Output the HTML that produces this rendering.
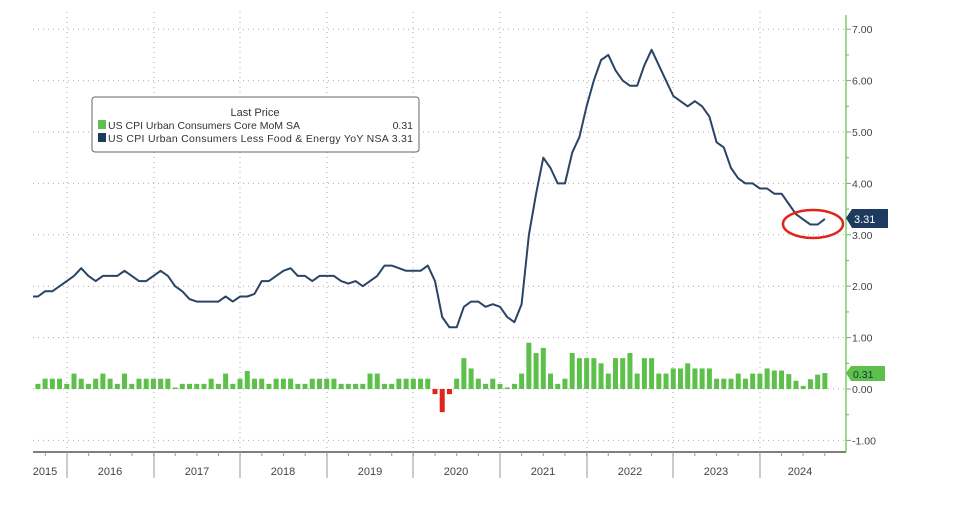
<!DOCTYPE html>
<html><head><meta charset="utf-8"><style>
body{margin:0;background:#fff;}
svg{display:block;font-family:"Liberation Sans",sans-serif;}
</style></head><body>
<svg width="960" height="507" viewBox="0 0 960 507" xmlns="http://www.w3.org/2000/svg">
<g id="grid" stroke="#aaa" stroke-width="1" stroke-dasharray="1,4"></g>
<g id="bars"></g>
<polyline id="line" fill="none" stroke="#2a4466" stroke-width="2" stroke-linejoin="round"/>
<line x1="33" y1="452" x2="846" y2="452" stroke="#555" stroke-width="1.5"/>
<g id="xax" stroke="#999" stroke-width="1"></g>
<g id="xl" font-size="11" fill="#444" text-anchor="middle"></g>
<line x1="846" y1="15" x2="846" y2="452" stroke="#5cc04a" stroke-width="1.2"/>
<g id="yax" font-size="10.5" fill="#444"></g>
<rect x="92" y="97" width="327" height="55" rx="3" fill="#fff" stroke="#666"/>
<text x="255" y="116" font-size="11" fill="#333" text-anchor="middle">Last Price</text>
<rect x="98" y="120" width="8" height="9" fill="#5cc04a"/>
<rect x="98" y="133" width="8" height="9" fill="#1f3a5f"/>
<text x="108" y="129" font-size="10.5" fill="#333">US CPI Urban Consumers Core MoM SA</text>
<text x="413" y="129" font-size="10.5" fill="#333" text-anchor="end">0.31</text>
<text x="108" y="142" font-size="10.5" fill="#333" textLength="305">US CPI Urban Consumers Less Food &amp; Energy YoY NSA 3.31</text>
<ellipse cx="813" cy="224" rx="30" ry="14" fill="none" stroke="#e0241a" stroke-width="2.5"/>
<path d="M846 218 L852 209 H888 V228 H852 Z" fill="#1f3a5f"/>
<text x="854" y="223" font-size="11" fill="#fff">3.31</text>
<path d="M846 373 L851 366 H885 V381 H851 Z" fill="#5cc04a"/>
<text x="853" y="378" font-size="10.5" fill="#234">0.31</text>
</svg>
<script>
const ns="http://www.w3.org/2000/svg";
function el(p,t,a,txt){const e=document.createElementNS(ns,t);for(const k in a)e.setAttribute(k,a[k]);if(txt)e.textContent=txt;document.getElementById(p).appendChild(e);return e;}
const Y=v=>389-v*51.4;
const yrs=[67,154,240,327,413,500,587,673,760];
for(let v=-1;v<=7;v++){el('grid','line',{x1:33,x2:846,y1:Y(v),y2:Y(v)});}
yrs.forEach(x=>el('grid','line',{x1:x,x2:x,y1:12,y2:452}));
for(let v=-1;v<=7;v++){el('yax','text',{x:852,y:Y(v)+4},(v<0?'-':'')+Math.abs(v).toFixed(2));
 el('yax','line',{x1:846,x2:851,y1:Y(v),y2:Y(v),stroke:'#5cc04a'});
 if(v<7){el('yax','line',{x1:846,x2:849,y1:Y(v+0.5),y2:Y(v+0.5),stroke:'#5cc04a'});}}
yrs.forEach(x=>el('xax','line',{x1:x,x2:x,y1:452,y2:478}));
for(let x=67-86.6;x<846;x+=21.65){if(x>33)el('xax','line',{x1:x,x2:x,y1:452,y2:456});}
const labs=['2015','2016','2017','2018','2019','2020','2021','2022','2023','2024'];
const lx=[45,110,197,283,370,456,543,630,716,800];
labs.forEach((t,i)=>el('xl','text',{x:lx[i],y:475},t));
const yoy=[1.8,1.8,1.9,1.9,2.0,2.1,
2.2,2.35,2.2,2.1,2.2,2.2,2.2,2.3,2.2,2.1,2.1,2.2,
2.3,2.2,2.0,1.9,1.75,1.7,1.7,1.7,1.7,1.8,1.7,1.8,
1.8,1.85,2.1,2.1,2.2,2.3,2.35,2.2,2.2,2.1,2.2,2.2,
2.2,2.1,2.05,2.1,2.0,2.1,2.2,2.4,2.4,2.35,2.3,2.3,
2.3,2.4,2.1,1.4,1.2,1.2,1.6,1.7,1.7,1.6,1.65,1.6,
1.4,1.3,1.65,3.0,3.8,4.5,4.3,4.0,4.0,4.6,4.9,5.5,
6.0,6.4,6.5,6.2,6.0,5.9,5.9,6.3,6.6,6.3,6.0,5.7,
5.6,5.5,5.6,5.5,5.3,4.8,4.7,4.3,4.1,4.0,4.0,3.9,
3.9,3.8,3.8,3.6,3.4,3.3,3.2,3.2,3.31];
const mom=[0.2,0.1,0.2,0.2,0.2,0.1,
0.3,0.2,0.1,0.2,0.3,0.2,0.1,0.3,0.1,0.2,0.2,0.2,
0.2,0.2,0.0,0.1,0.1,0.1,0.1,0.2,0.1,0.3,0.1,0.2,
0.35,0.2,0.2,0.1,0.2,0.2,0.2,0.1,0.1,0.2,0.2,0.2,
0.2,0.1,0.1,0.1,0.1,0.3,0.3,0.1,0.1,0.2,0.2,0.2,
0.2,0.2,-0.1,-0.45,-0.1,0.2,0.6,0.4,0.2,0.1,0.2,0.1,
0.03,0.1,0.3,0.9,0.7,0.8,0.3,0.1,0.2,0.7,0.6,0.6,
0.6,0.5,0.3,0.6,0.6,0.7,0.3,0.6,0.6,0.3,0.3,0.4,
0.4,0.5,0.4,0.4,0.4,0.2,0.2,0.2,0.3,0.2,0.3,0.3,
0.4,0.36,0.36,0.29,0.16,0.06,0.19,0.28,0.31];
const X=i=>74+(i-6)*7.22;
document.getElementById('line').setAttribute('points',yoy.map((v,i)=>Math.max(33,X(i)).toFixed(1)+','+Y(v).toFixed(1)).join(' '));
mom.forEach((v,i)=>{const x=X(i);if(x<33)return;const h=Math.max(Math.abs(v)*51.4,1.5);
 el('bars','rect',{x:x-2.5,width:5,y:v>=0?389-h:389,height:h,fill:v>=0?'#5cc04a':'#e0241a'});});
</script>
</body></html>
